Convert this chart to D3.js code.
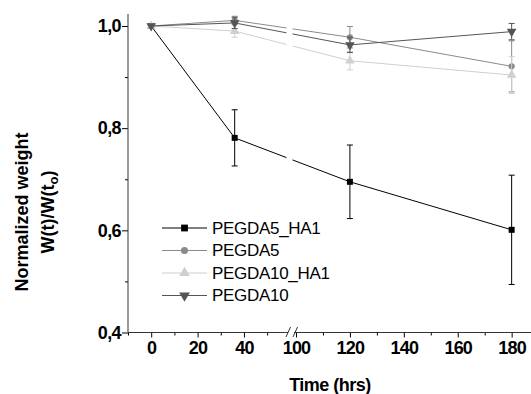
<!DOCTYPE html>
<html>
<head>
<meta charset="utf-8">
<script src="https://cdn.jsdelivr.net/npm/d3@7"></script>
<style>
  body { margin: 0; background: #fff; }
  text { font-family: "Liberation Sans", Arial, sans-serif; }
</style>
</head>
<body>
<div id="chart"></div>
<script>
// data
var times = [0, 36, 120, 180];
var seriesNames = ["PEGDA5_HA1", "PEGDA5", "PEGDA10_HA1", "PEGDA10"];
var pegda5ha1 = [1.0, 0.781, 0.695, 0.601];
var pegda5ha1Err = [0, 0.055, 0.072, 0.107];
var pegda5 = [1.0, 1.011, 0.978, 0.921];
var pegda5Err = [0, 0.008, 0.021, 0.05];
var pegda10ha1 = [1.0, 0.99, 0.932, 0.904];
var pegda10ha1Err = [0, 0.012, 0.018, 0.036];
var pegda10 = [1.0, 1.006, 0.963, 0.989];
var pegda10Err = [0, 0.011, 0.015, 0.016];

var xMajor = [0, 20, 40, 100, 120, 140, 160, 180];
var xMinor = [-10, 10, 30, 50, 110, 130, 150, 170, 190];
var yMajor = [0.4, 0.6, 0.8, 1.0];
var yMinor = [0.5, 0.7, 0.9];

var width = 531, height = 394;

var svg = d3.select("#chart")
  .append("svg")
    .attr("width", width)
    .attr("height", height);

// broken x axis: two linear pieces, 60..99 collapsed into the break
var x = d3.scaleLinear()
    .domain([-10, 58, 99, 190])
    .range([128, 285.7, 293.3, 538.6]);

var y = d3.scaleLinear()
    .domain([0.4, 1.0])
    .range([332.5, 26]);

var comma = function(d) { return d3.format(".1f")(d).replace(".", ","); };

var series = [
  {name: seriesNames[0], v: pegda5ha1, e: pegda5ha1Err, color: "#000", sym: d3.symbolSquare, size: 36, rot: 0},
  {name: seriesNames[1], v: pegda5, e: pegda5Err, color: "#8a8a8a", sym: d3.symbolCircle, size: 30, rot: 0},
  {name: seriesNames[2], v: pegda10ha1, e: pegda10ha1Err, color: "#cfcfcf", sym: d3.symbolTriangle, size: 40, rot: 0},
  {name: seriesNames[3], v: pegda10, e: pegda10Err, color: "#555", sym: d3.symbolTriangle, size: 40, rot: 180}
];

// axes
var yAxisG = svg.append("g").attr("transform", "translate(128,0)");
yAxisG.call(d3.axisLeft(y).tickValues(yMajor).tickFormat(comma).tickSize(6).tickSizeOuter(0));
yAxisG.select(".domain").remove();
yAxisG.selectAll("text")
  .attr("font-weight", "bold")
  .style("font-size", "18px")
  .style("letter-spacing", "-0.6px")
  .attr("x", -7)
  .attr("fill", "#000");
var yMinG = svg.append("g").attr("transform", "translate(128,0)");
yMinG.call(d3.axisLeft(y).tickValues(yMinor).tickFormat("").tickSize(3).tickSizeOuter(0));
yMinG.select(".domain").remove();

svg.append("line")
  .attr("x1", 128).attr("x2", 128)
  .attr("y1", 14).attr("y2", 332.5)
  .attr("stroke", "#333");

var xAxisG = svg.append("g").attr("transform", "translate(0,332.5)");
xAxisG.call(d3.axisBottom(x).tickValues(xMajor).tickFormat(d3.format("d")).tickSize(5).tickSizeOuter(0));
xAxisG.select(".domain").remove();
xAxisG.selectAll("text")
  .attr("font-weight", "bold")
  .style("font-size", "18px")
  .style("letter-spacing", "-0.8px")
  .attr("y", 9)
  .attr("fill", "#000");
var xMinG = svg.append("g").attr("transform", "translate(0,332.5)");
xMinG.call(d3.axisBottom(x).tickValues(xMinor).tickFormat("").tickSize(3).tickSizeOuter(0));
xMinG.select(".domain").remove();

svg.append("line")
  .attr("x1", 128).attr("x2", 288)
  .attr("y1", 332.5).attr("y2", 332.5)
  .attr("stroke", "#333");
svg.append("line")
  .attr("x1", 294).attr("x2", width)
  .attr("y1", 332.5).attr("y2", 332.5)
  .attr("stroke", "#333");
// break marks
[286, 293].forEach(function(bx) {
  svg.append("line")
    .attr("x1", bx).attr("y1", 337)
    .attr("x2", bx + 4.5).attr("y2", 327)
    .attr("stroke", "#333");
});

// series
var line = d3.line()
  .x(function(d) { return x(d.t); })
  .y(function(d) { return y(d.v); });

series.forEach(function(s) {
  var pts = times.map(function(t, i) { return {t: t, v: s.v[i], e: s.e[i]}; });
  var g = svg.append("g");

  g.append("path")
    .datum(pts)
    .attr("d", line)
    .attr("fill", "none")
    .attr("stroke", s.color)
    .attr("stroke-width", 1);

  var eb = g.selectAll(".eb")
    .data(pts.filter(function(d) { return d.e > 0; }))
    .enter().append("g");
  eb.append("line")
    .attr("x1", function(d) { return x(d.t); })
    .attr("x2", function(d) { return x(d.t); })
    .attr("y1", function(d) { return y(d.v + d.e); })
    .attr("y2", function(d) { return y(d.v - d.e); })
    .attr("stroke", s.color);
  [1, -1].forEach(function(sgn) {
    eb.append("line")
      .attr("x1", function(d) { return x(d.t) - 3; })
      .attr("x2", function(d) { return x(d.t) + 3; })
      .attr("y1", function(d) { return y(d.v + sgn * d.e); })
      .attr("y2", function(d) { return y(d.v + sgn * d.e); })
      .attr("stroke", s.color);
  });

  g.selectAll(".pt")
    .data(pts)
    .enter().append("path")
      .attr("d", d3.symbol().type(s.sym).size(s.size))
      .attr("transform", function(d) {
        return "translate(" + x(d.t) + "," + y(d.v) + ") rotate(" + s.rot + ")";
      })
      .attr("fill", s.color);
});

// lines are broken where the axis is broken
svg.append("rect")
  .attr("x", 286.5).attr("y", 14)
  .attr("width", 6).attr("height", 312)
  .attr("fill", "#fff");

// legend
var legend = svg.append("g")
  .selectAll("g")
  .data(series)
  .enter().append("g")
    .attr("transform", function(d, i) { return "translate(0," + (228 + i * 22.5) + ")"; });

legend.append("line")
  .attr("x1", 162).attr("x2", 207)
  .attr("stroke", function(d) { return d.color; });
legend.append("path")
  .attr("d", function(d) { return d3.symbol().type(d.sym).size(d.size + 10)(); })
  .attr("transform", function(d) { return "translate(184.5,0) rotate(" + d.rot + ")"; })
  .attr("fill", function(d) { return d.color; });
legend.append("text")
  .attr("x", 212)
  .attr("dy", "0.35em")
  .style("font-size", "17px")
  .style("letter-spacing", "-0.3px")
  .text(function(d) { return d.name; });

// axis titles
svg.append("text")
  .attr("x", 330)
  .attr("y", 391)
  .attr("text-anchor", "middle")
  .attr("font-weight", "bold")
  .style("font-size", "18px")
  .style("letter-spacing", "-0.5px")
  .text("Time (hrs)");

var yTitle = svg.append("text")
  .attr("transform", "translate(28,212) rotate(-90)")
  .attr("text-anchor", "middle")
  .attr("font-weight", "bold")
  .style("font-size", "18px");
yTitle.append("tspan")
  .attr("x", 0).attr("y", 0)
  .text("Normalized weight");
yTitle.append("tspan")
  .attr("x", 0).attr("y", 26)
  .text("W(t)/W(t");
yTitle.append("tspan")
  .attr("dy", 4)
  .style("font-size", "13px")
  .text("o");
yTitle.append("tspan")
  .attr("dy", -4)
  .text(")");
</script>
</body>
</html>
